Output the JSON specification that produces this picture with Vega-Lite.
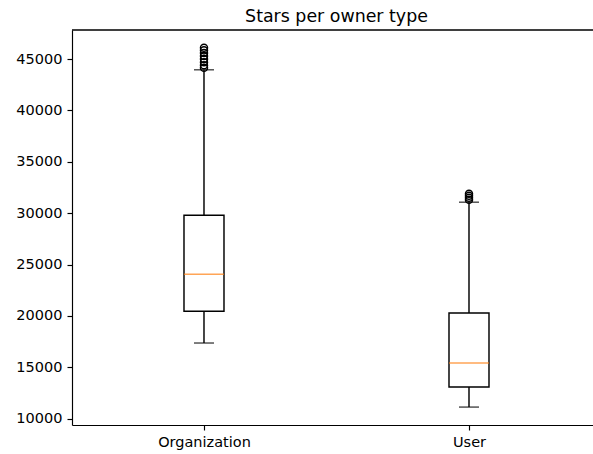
{
  "$schema": "https://vega.github.io/schema/vega-lite/v6.json",
  "autosize": {"type": "none"},
  "padding": {"left": 72, "top": 30, "right": 0, "bottom": 29},
  "width": 521,
  "height": 395,
  "background": "white",
  "title": {
    "text": "Stars per owner type",
    "font": "DejaVu Sans",
    "fontSize": 17.4,
    "fontWeight": "normal",
    "color": "black",
    "anchor": "middle",
    "baseline": "bottom",
    "offset": 5,
    "dx": 4,
    "dy": 19
  },
  "config": {
    "view": {"stroke": null},
    "axis": {
      "labelFont": "DejaVu Sans",
      "labelFontSize": 14.5,
      "labelColor": "black",
      "domainColor": "black",
      "domainWidth": 1.16,
      "tickColor": "black",
      "tickWidth": 1.16,
      "tickSize": 5,
      "labelPadding": 5,
      "grid": false,
      "title": null
    }
  },
  "datasets": {
    "boxes": [
      {"owner": "Organization", "lower": 17368, "q1": 20455, "median": 24059, "q3": 29806, "upper": 43958},
      {"owner": "User", "lower": 11134, "q1": 13082, "median": 15420, "q3": 20290, "upper": 31072}
    ],
    "outliers": [
      {"owner": "Organization", "stars": 44150},
      {"owner": "Organization", "stars": 44400},
      {"owner": "Organization", "stars": 44700},
      {"owner": "Organization", "stars": 45000},
      {"owner": "Organization", "stars": 45300},
      {"owner": "Organization", "stars": 45600},
      {"owner": "Organization", "stars": 45850},
      {"owner": "Organization", "stars": 46100},
      {"owner": "User", "stars": 31300},
      {"owner": "User", "stars": 31500},
      {"owner": "User", "stars": 31700},
      {"owner": "User", "stars": 31900}
    ]
  },
  "data": {"name": "boxes"},
  "encoding": {
    "x": {
      "field": "owner",
      "type": "nominal",
      "sort": ["Organization", "User"],
      "scale": {"type": "point", "padding": 0.483, "align": 0.5156},
      "axis": {"labelAngle": 0}
    }
  },
  "layer": [
    {
      "mark": {"type": "rule", "color": "black", "strokeWidth": 1.45},
      "encoding": {
        "y": {
          "field": "lower",
          "type": "quantitative",
          "scale": {"domain": [9390, 47830], "nice": false, "zero": false},
          "axis": {"values": [10000, 15000, 20000, 25000, 30000, 35000, 40000, 45000], "format": "d"}
        },
        "y2": {"field": "upper"}
      }
    },
    {
      "mark": {"type": "bar", "width": 40, "fill": "white", "stroke": "black", "strokeWidth": 1.45},
      "encoding": {
        "y": {"field": "q1", "type": "quantitative"},
        "y2": {"field": "q3"}
      }
    },
    {
      "mark": {"type": "tick", "color": "#ff7f0e", "size": 40, "thickness": 1.45},
      "encoding": {"y": {"field": "median", "type": "quantitative"}}
    },
    {
      "mark": {"type": "tick", "color": "black", "size": 20, "thickness": 1.45},
      "encoding": {"y": {"field": "lower", "type": "quantitative"}}
    },
    {
      "mark": {"type": "tick", "color": "black", "size": 20, "thickness": 1.45},
      "encoding": {"y": {"field": "upper", "type": "quantitative"}}
    },
    {
      "data": {"name": "outliers"},
      "mark": {"type": "point", "shape": "circle", "filled": false, "color": "black", "strokeWidth": 1.45, "size": 50, "opacity": 1},
      "encoding": {"y": {"field": "stars", "type": "quantitative"}}
    },
    {
      "mark": {"type": "rule", "color": "black", "strokeWidth": 1.16},
      "encoding": {"y": {"datum": 47830}, "x": null}
    }
  ]
}
